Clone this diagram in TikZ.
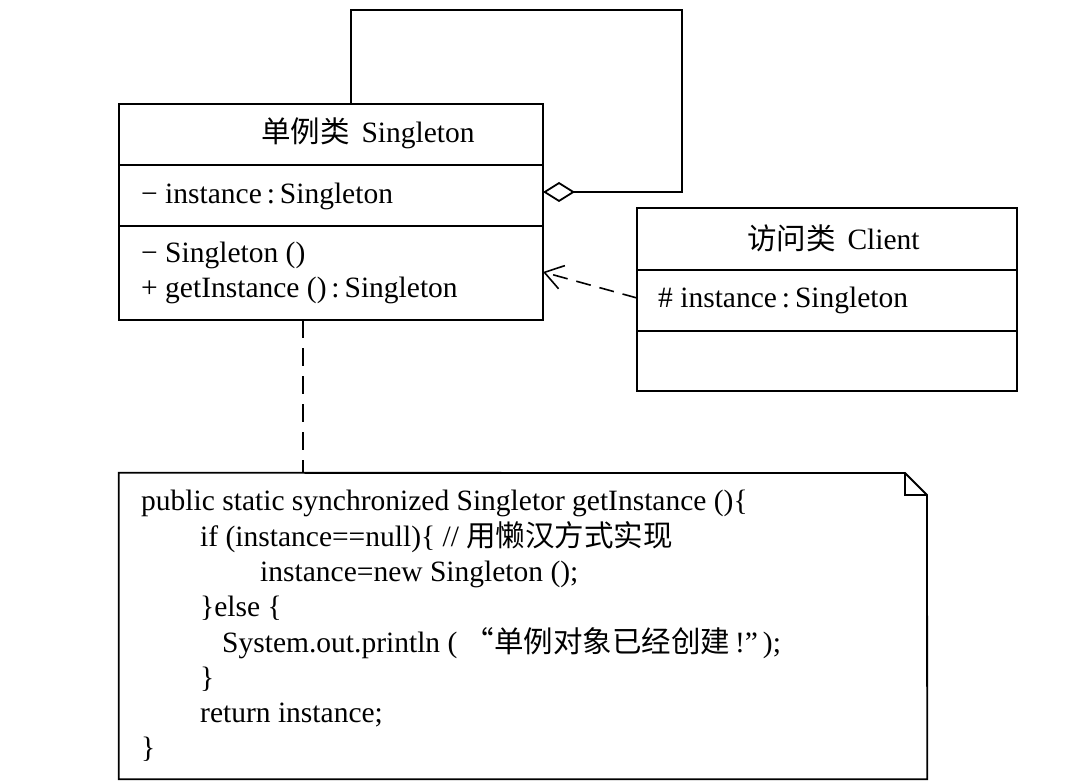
\documentclass[tikz,border=0pt]{standalone}
\usepackage{fontspec}
\setmainfont{Liberation Serif}
\newfontfamily\cjk{Noto Sans CJK SC}
\usetikzlibrary{arrows.meta}

\tikzset{
  umlbox/.style={draw, line width=1.8pt, inner sep=0pt},
  umlline/.style={line width=1.8pt},
  dashline/.style={line width=1.6pt, dash pattern=on 15pt off 9pt},
  umltext/.style={anchor=base west, inner sep=0pt, font=\fontsize{29.5}{35}\selectfont},
}

\begin{document}
\begin{tikzpicture}[x=1pt, y=-1pt]
\useasboundingbox (0,0) rectangle (1067,783);

% Singleton class
\node[umlbox, minimum width=424pt, minimum height=216pt] (singleton) at (331,212) {};
\draw[umlline] (119,165) -- (543,165);
\draw[umlline] (119,226) -- (543,226);
\node[umltext] (stitle) at (261,143) {{\cjk 单例类}\hspace{0.4em}Singleton};
\node[umltext] (sattr) at (141,204) {− instance\,:\,Singleton};
\node[umltext] (smeth1) at (141,263) {− Singleton ()};
\node[umltext] (smeth2) at (141,298) {+ getInstance ()\,:\,Singleton};

% Client class
\node[umlbox, minimum width=380pt, minimum height=183pt] (client) at (827,299.5) {};
\draw[umlline] (637,270) -- (1017,270);
\draw[umlline] (637,331) -- (1017,331);
\node[umltext] (ctitle) at (747,250) {{\cjk 访问类}\hspace{0.4em}Client};
\node[umltext] (cattr) at (658,307) {\# instance\,:\,Singleton};

% note
\node[minimum width=808pt, minimum height=306pt, inner sep=0pt] (note) at (523,626) {};
\draw[umlline, line join=miter] (note.north west) -- (905,473) -- (927,495) -- (note.south east) -- (note.south west) -- cycle;
\draw[umlline] (905,473) -- (905,495) -- (927,495);
\node[umltext] (code1) at (141,510) {public static synchronized Singletor getInstance ()\{};
\node[umltext] (code2) at (200,546) {if (instance==null)\{ // {\cjk 用懒汉方式实现}};
\node[umltext] (code3) at (260,581) {instance=new Singleton ();};
\node[umltext] (code4) at (200,616) {\}else \{};
\node[umltext] (code5) at (222,652) {System.out.println ( {\cjk “单例对象已经创建}\,!”\,);};
\node[umltext] (code6) at (200,687) {\}};
\node[umltext] (code7) at (200,722) {return instance;};
\node[umltext] (code8) at (141,757) {\}};

% connectors
\coordinate (selfend) at (543,192);
\coordinate (selfstart) at (351,104);
\draw[umlline, {Diamond[open, length=32pt, width=20pt]}-] (selfend) -- (682,192) -- (682,10) -- (351,10) -- (selfstart);

\coordinate (usefrom) at (637,298);
\coordinate (useto) at (543,272);
\draw[dashline, -{Straight Barb[length=18pt, width=24pt]}] (usefrom) -- (useto);

\coordinate (notefrom) at (303,320);
\coordinate (noteto) at (303,473);
\draw[umlline, dash pattern=on 18pt off 10pt] (notefrom) -- (noteto);
\end{tikzpicture}
\end{document}
